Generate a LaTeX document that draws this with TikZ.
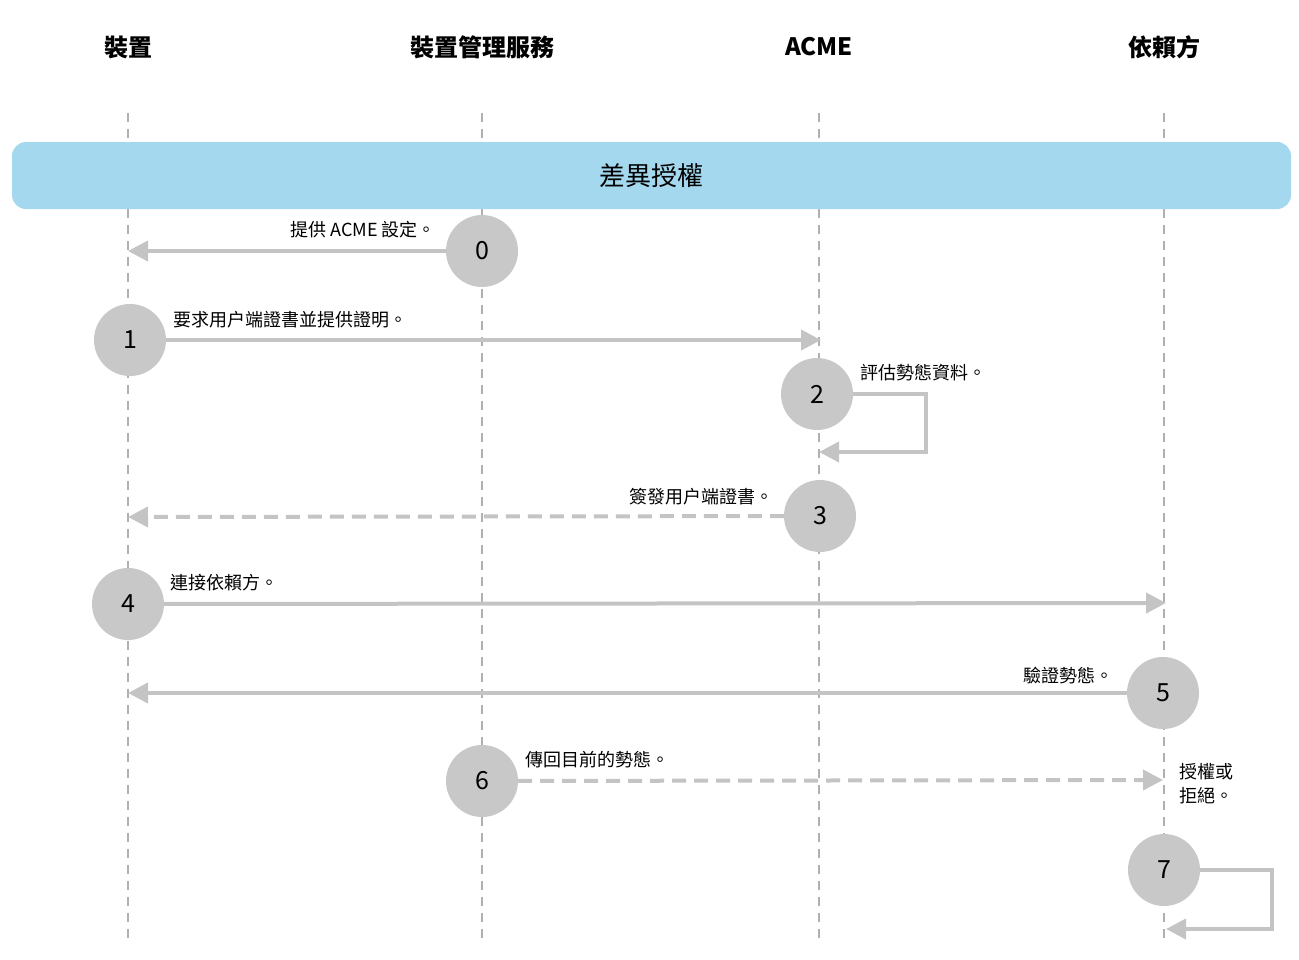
\documentclass[tikz,border=0pt]{standalone}
\usepackage{fontspec}
\setmainfont{Noto Sans CJK TC}
\usetikzlibrary{arrows.meta}
\definecolor{band}{HTML}{A3D8EE}
\definecolor{circ}{HTML}{C8C8C8}
\definecolor{arr}{HTML}{C4C4C4}
\definecolor{life}{HTML}{B0B0B0}
\begin{document}
\begin{tikzpicture}[x=1pt,y=-1pt,
  head/.style={font=\fontsize{24}{28}\selectfont\bfseries},
  lab/.style={font=\fontsize{18}{24}\selectfont, inner sep=0pt},
  num/.style={circle,fill=circ,minimum size=72pt,inner sep=0pt,font=\fontsize{25}{28}\selectfont},
  msg/.style={draw=arr,line width=4pt,-{Triangle[length=20pt,width=20pt]}},
  dmsg/.style={msg,dash pattern=on 14pt off 8pt},
  lifeline/.style={draw=life,line width=1.2pt,dash pattern=on 9pt off 7pt}]
\useasboundingbox (0,0) rectangle (1299,959);
\foreach \n/\x/\t in {a/128/裝置,b/482/裝置管理服務,c/819/ACME,d/1164/依賴方}{
  \node[head] (h\n) at (\x,47) {\t};
  \coordinate (t\n) at (\x,113);
  \coordinate (e\n) at (\x,945);
  \draw[lifeline] (t\n) -- (e\n);
}
\node[fill=band,rounded corners=14pt,minimum width=1279pt,minimum height=67pt,font=\fontsize{26}{30}\selectfont] (band) at (651.5,175.5) {差異授權};
% 0
\node[num] (n0) at (482,251) {0};
\coordinate (a0) at (128,251);
\draw[msg] (n0) -- (a0);
\node[lab,anchor=east] at (436,230) {提供 ACME 設定。};
% 1
\node[num] (n1) at (130,340) {1};
\coordinate (a1) at (821,340);
\draw[msg] (n1) -- (a1);
\node[lab,anchor=west] at (173,320) {要求用户端證書並提供證明。};
% 2
\node[num] (n2) at (817,394) {2};
\coordinate (a2) at (819,452);
\draw[msg,rounded corners=0pt] (n2.east) -- (926,394) -- (926,452) -- (a2);
\node[lab,anchor=west] at (860,373) {評估勢態資料。};
% 3
\node[num] (n3) at (820,516) {3};
\coordinate (a3) at (128,517);
\draw[dmsg] (n3) -- (a3);
\node[lab,anchor=east] at (774,497) {簽發用户端證書。};
% 4
\node[num] (n4) at (128,604) {4};
\coordinate (a4) at (1166,603);
\draw[msg] (n4) -- (a4);
\node[lab,anchor=west] at (170,583) {連接依賴方。};
% 5
\node[num] (n5) at (1163,693) {5};
\coordinate (a5) at (128,693);
\draw[msg] (n5) -- (a5);
\node[lab,anchor=east] at (1114,676) {驗證勢態。};
% 6
\node[num] (n6) at (482,781) {6};
\coordinate (a6) at (1163,780);
\draw[dmsg] (n6) -- (a6);
\node[lab,anchor=west] at (525,760) {傳回目前的勢態。};
\node[lab,anchor=north west,align=left] at (1179,763) {授權或\\拒絕。};
% 7
\node[num] (n7) at (1164,870) {7};
\coordinate (a7) at (1166,929);
\draw[msg] (n7.east) -- (1272,870) -- (1272,929) -- (a7);
\end{tikzpicture}
\end{document}
